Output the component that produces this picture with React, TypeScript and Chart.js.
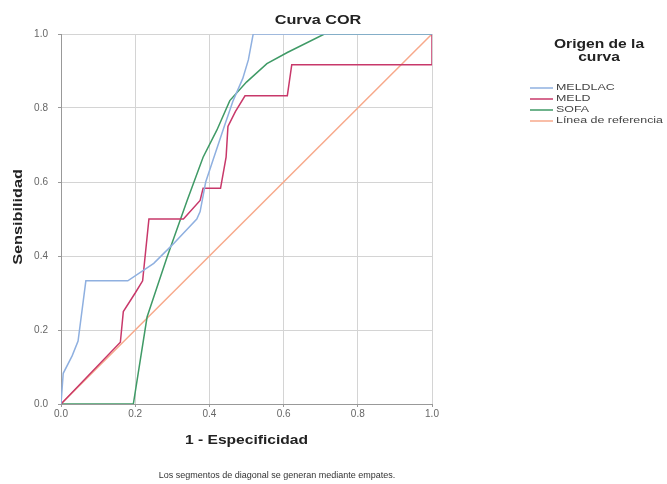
import React, { useEffect, useRef } from "react";
import { Chart, registerables } from "chart.js";

Chart.register(...registerables);

const chartTitle = "Curva COR";
const xAxisTitle = "1 - Especificidad";
const yAxisTitle = "Sensibilidad";
const footnote = "Los segmentos de diagonal se generan mediante empates.";
const legendTitle = ["Origen de la", "curva"];
const seriesNames = ["MELDLAC", "MELD", "SOFA", "Línea de referencia"];
const seriesColors = ["#8fb0e0", "#c8386a", "#3f9a66", "#f7a98b"];
const tickValues = [0, 0.2, 0.4, 0.6, 0.8, 1.0];

const meldlacX = [0, 0.006, 0.03, 0.046, 0.067, 0.18, 0.25, 0.3, 0.366, 0.375, 0.39, 0.41, 0.44, 0.464, 0.49, 0.505, 0.518, 1];
const meldlacY = [0, 0.083, 0.13, 0.17, 0.333, 0.333, 0.38, 0.43, 0.5, 0.52, 0.6, 0.66, 0.75, 0.82, 0.88, 0.93, 1.0, 1.0];

const meldX = [0, 0.16, 0.168, 0.2, 0.22, 0.237, 0.33, 0.375, 0.383, 0.43, 0.445, 0.45, 0.47, 0.496, 0.61, 0.622, 1, 1];
const meldY = [0, 0.167, 0.25, 0.3, 0.333, 0.5, 0.5, 0.55, 0.583, 0.583, 0.667, 0.75, 0.79, 0.833, 0.833, 0.917, 0.917, 1.0];

const sofaX = [0, 0.195, 0.232, 0.286, 0.34, 0.383, 0.42, 0.455, 0.5, 0.555, 0.61, 0.71, 1];
const sofaY = [0, 0, 0.235, 0.397, 0.55, 0.667, 0.74, 0.82, 0.87, 0.92, 0.95, 1.0, 1.0];

const refX = [0, 1];
const refY = [0, 1];

const FONT = "'Liberation Sans', Arial, sans-serif";

function pts(xs: number[], ys: number[]) {
  return xs.map((x, i) => ({ x, y: ys[i] }));
}

function stretchText(ctx: any, text: string, x: number, y: number, sx: number, rot = 0) {
  ctx.save();
  ctx.translate(x, y);
  if (rot) ctx.rotate(rot);
  ctx.scale(sx, 1);
  ctx.fillText(text, 0, 0);
  ctx.restore();
}

const decorPlugin = {
  id: "decor",
  afterDraw(chart: any) {
    const ctx = chart.ctx;
    const area = chart.chartArea;
    ctx.save();
    ctx.fillStyle = "#222";
    ctx.textAlign = "center";
    ctx.textBaseline = "middle";
    ctx.font = `bold 13px ${FONT}`;
    stretchText(ctx, chartTitle, 318, 20, 1.25);

    stretchText(ctx, xAxisTitle, (area.left + area.right) / 2, 440, 1.2);

    stretchText(ctx, yAxisTitle, 18, 217, 1.25, -Math.PI / 2);

    ctx.font = `9px ${FONT}`;
    ctx.fillStyle = "#333";
    ctx.fillText(footnote, 277, 476);

    // legend
    ctx.fillStyle = "#222";
    ctx.font = `bold 13px ${FONT}`;
    stretchText(ctx, legendTitle[0], 599, 44, 1.2);
    stretchText(ctx, legendTitle[1], 599, 57, 1.2);
    ctx.font = `9px ${FONT}`;
    ctx.textAlign = "left";
    const rows = [88, 99, 110, 121];
    seriesNames.forEach((name, i) => {
      ctx.strokeStyle = seriesColors[i];
      ctx.lineWidth = 1.5;
      ctx.beginPath();
      ctx.moveTo(530, rows[i]);
      ctx.lineTo(553, rows[i]);
      ctx.stroke();
      ctx.fillStyle = "#444";
      stretchText(ctx, name, 556, rows[i], 1.38);
    });
    ctx.restore();
  },
};

export default function App() {
  const ref = useRef<HTMLCanvasElement | null>(null);
  useEffect(() => {
    document.body.style.margin = "0";
    const xsList = [meldlacX, meldX, sofaX, refX];
    const ysList = [meldlacY, meldY, sofaY, refY];
    const chart = new Chart(ref.current as HTMLCanvasElement, {
      type: "line",
      data: {
        datasets: seriesNames.map((name, i) => ({
          label: name,
          data: pts(xsList[i], ysList[i]),
          borderColor: seriesColors[i],
          backgroundColor: seriesColors[i],
          borderWidth: 1.5,
          pointRadius: 0,
          tension: 0,
          fill: false,
        })),
      },
      options: {
        responsive: false,
        animation: false,
        layout: { padding: { top: 34, right: 235, left: 0, bottom: 0 } },
        plugins: {
          legend: { display: false },
          title: { display: false },
          tooltip: { enabled: false },
        },
        scales: {
          x: {
            type: "linear",
            min: 0,
            max: 1,
            afterBuildTicks: (s: any) => {
              s.ticks = tickValues.map((v) => ({ value: v }));
            },
            afterFit: (s: any) => {
              s.height = 80;
            },
            grid: { color: "#d4d4d4", tickLength: 3, tickColor: "#999" },
            border: { color: "#999", width: 1 },
            ticks: {
              padding: 1,
              maxRotation: 0,
              color: "#666",
              font: { family: FONT, size: 10 },
              callback: (v: any) => Number(v).toFixed(1),
            },
          },
          y: {
            type: "linear",
            min: 0,
            max: 1,
            afterBuildTicks: (s: any) => {
              s.ticks = tickValues.map((v) => ({ value: v }));
            },
            afterFit: (s: any) => {
              s.width = 61;
            },
            grid: { color: "#d4d4d4", tickLength: 3, tickColor: "#999" },
            border: { color: "#999", width: 1 },
            ticks: {
              padding: 10,
              color: "#666",
              font: { family: FONT, size: 10 },
              callback: (v: any) => Number(v).toFixed(1),
            },
          },
        },
      },
      plugins: [decorPlugin],
    });
    return () => chart.destroy();
  }, []);
  return (
    <div style={{ width: 667, height: 484, background: "#fff" }}>
      <canvas ref={ref} width={667} height={484} />
    </div>
  );
}
